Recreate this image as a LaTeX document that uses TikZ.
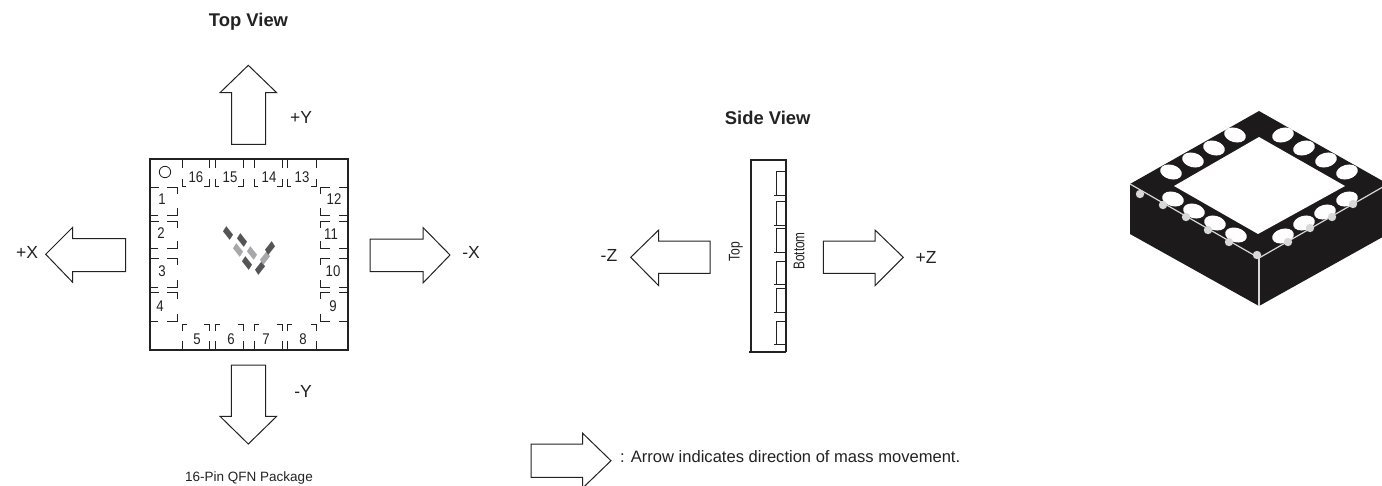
\documentclass[tikz,border=0pt]{standalone}
\usepackage{fontspec}
\usepackage{graphicx}
\setmainfont{Liberation Sans}
\definecolor{ink}{HTML}{222222}
\definecolor{chipblack}{HTML}{1C1A1A}
\definecolor{logodark}{HTML}{555558}
\definecolor{logolight}{HTML}{A8A8AA}
\definecolor{lump}{HTML}{D8D8D8}
\newcommand{\pintoppin}[2]{%
  \draw[pinline] (#1,159)--(#1,168) (#1,179)--(#1,186)--(#1+4,186) (#2-5,186)--(#2,186)--(#2,179) (#2,168)--(#2,159);}
\newcommand{\pinbotpin}[2]{%
  \draw[pinline] (#1,350)--(#1,341) (#1,331)--(#1,324)--(#1+5,324) (#2-5,324)--(#2,324)--(#2,331) (#2,341)--(#2,350);}
\newcommand{\pinleftpin}[2]{%
  \draw[pinline] (149,#1)--(159,#1) (167,#1)--(177,#1)--(177,#1+7) (177,#2-7)--(177,#2)--(167,#2) (158,#2)--(149,#2);}
\newcommand{\pinrightpin}[2]{%
  \draw[pinline] (349,#1)--(339,#1) (330,#1)--(320,#1)--(320,#1+7) (320,#2-7)--(320,#2)--(330,#2) (339,#2)--(349,#2);}
\newcommand{\sidepin}[2]{%
  \draw[pinline] (787,#1)--(776,#1)--(776,#2) (774,#2)--(787,#2);}
\newcommand{\logoL}[3]{\fill[#3] (#1-1.7,#2-6.8)--(#1+5,#2+1.7)--(#1+1.7,#2+6.8)--(#1-5,#2-1.7)--cycle;}
\newcommand{\logoR}[3]{\fill[#3] (#1+1.7,#2-6.8)--(#1-5,#2+1.7)--(#1-1.7,#2+6.8)--(#1+5,#2-1.7)--cycle;}
\newcommand{\padwhite}[3]{\fill[white,rotate around={#3:(#1,#2)}] (#1,#2) ellipse [x radius=11,y radius=7.2];}
\newcommand{\lumpdot}[2]{\fill[lump] (#1,#2) circle (4.2);}
\tikzset{
  x=1pt,y=-1pt,
  blockarrow/.style={draw=ink,line width=1pt,fill=white,line join=miter},
  pkgline/.style={draw=ink,line width=1.1pt},
  pinline/.style={draw=ink,line width=.9pt},
  axislabel/.style={inner sep=0pt,text=ink,font=\fontsize{17.5}{20}\selectfont},
  titlelabel/.style={inner sep=0pt,anchor=base,text=ink,font=\bfseries\fontsize{18.4}{20}\selectfont},
  pinlabel/.style={inner sep=0pt,text=ink,font=\fontsize{15.5}{18}\selectfont},
  notelabel/.style={inner sep=0pt,text=ink,font=\fontsize{16.55}{18}\selectfont},
}
\newcommand{\pinnum}[1]{\scalebox{.85}[1]{#1}}
\begin{document}
\begin{tikzpicture}
\useasboundingbox (0,0) rectangle (1382,485);
\begin{scope}
\clip (0,0) rectangle (1382,485);
% titles
\node[titlelabel] (topview) at (248.5,26) {Top View};
\node[titlelabel] (sideview) at (767.7,124) {Side View};
% block arrows
\draw[blockarrow] (248.3,65.3)--(276.7,92.7)--(265.7,92.7)--(265.7,144.3)--(231.7,144.3)--(231.7,92.7)--(220,92.7)--cycle;
\draw[blockarrow] (45.7,254.3)--(72.7,227.3)--(72.7,238.7)--(125.7,238.7)--(125.7,271.7)--(72.7,271.7)--(72.7,282.3)--cycle;
\draw[blockarrow] (450,255)--(423,227.5)--(423,239)--(370,239)--(370,271.5)--(423,271.5)--(423,283)--cycle;
\draw[blockarrow] (248.3,444)--(276.7,416.3)--(265.7,416.3)--(265.7,365)--(231.3,365)--(231.3,416.3)--(220,416.3)--cycle;
\draw[blockarrow] (630.7,257.3)--(658.7,230)--(658.7,241)--(710,241)--(710,273.3)--(658.7,273.3)--(658.7,285.7)--cycle;
\draw[blockarrow] (903.3,257.3)--(875,230)--(875,241)--(823.3,241)--(823.3,273.3)--(875,273.3)--(875,285.7)--cycle;
\draw[blockarrow] (611,460.7)--(582.7,433.3)--(582.7,444)--(531,444)--(531,477.3)--(582.7,477.3)--(582.7,488)--cycle;
% axis labels
\node[axislabel] (py) at (301,117) {+Y};
\node[axislabel] (my) at (303,391) {-Y};
\node[axislabel] (px) at (27,252) {+X};
\node[axislabel] (mx) at (471,252) {-X};
\node[axislabel] (mz) at (609,255) {-Z};
\node[axislabel] (pz) at (926,257) {+Z};
% QFN package outline
\draw[pkgline] (150,159) rectangle (348,350);
\draw[ink,line width=.8pt] (165,172) circle (5.7);
\pintoppin{182}{209}\pintoppin{215}{243}\pintoppin{254}{282}\pintoppin{287}{316}
\pinbotpin{182}{209}\pinbotpin{215}{243}\pinbotpin{254}{282}\pinbotpin{287}{316}
\pinleftpin{187}{215}\pinleftpin{221}{248}\pinleftpin{258}{287}\pinleftpin{292}{321}
\pinrightpin{187}{215}\pinrightpin{221}{248}\pinrightpin{258}{287}\pinrightpin{292}{321}
% pin numbers
\node[pinlabel] (p16) at (196,177) {\pinnum{16}};
\node[pinlabel] (p15) at (230,177) {\pinnum{15}};
\node[pinlabel] (p14) at (269,177) {\pinnum{14}};
\node[pinlabel] (p13) at (302,177) {\pinnum{13}};
\node[pinlabel] (p1) at (162,199) {\pinnum{1}};
\node[pinlabel] (p2) at (161,233) {\pinnum{2}};
\node[pinlabel] (p3) at (162,271) {\pinnum{3}};
\node[pinlabel] (p4) at (160,306) {\pinnum{4}};
\node[pinlabel] (p5) at (197,339) {\pinnum{5}};
\node[pinlabel] (p6) at (231,339) {\pinnum{6}};
\node[pinlabel] (p7) at (266,339) {\pinnum{7}};
\node[pinlabel] (p8) at (303,339) {\pinnum{8}};
\node[pinlabel] (p12) at (334,199) {\pinnum{12}};
\node[pinlabel] (p11) at (331,234) {\pinnum{11}};
\node[pinlabel] (p10) at (333,271) {\pinnum{10}};
\node[pinlabel] (p9) at (333,306) {\pinnum{9}};
% logo
\logoL{228}{233}{logodark}\logoL{242}{240}{logodark}
\logoL{238}{250}{logolight}\logoL{252}{253}{logolight}
\logoL{247}{263}{logodark}
\logoR{260}{268}{logodark}\logoR{265}{258}{logolight}\logoR{270}{248}{logodark}
% side view
\draw[pkgline] (749,352)--(786,352) (751,352)--(751,160)--(786,160)--(786,352);
\sidepin{171}{195}\sidepin{201}{225}\sidepin{228}{252}\sidepin{261}{284}\sidepin{288}{312}\sidepin{321}{344}
\node[pinlabel,rotate=90] (toplabel) at (736,252) {\scalebox{.78}[1]{Top}};
\node[pinlabel,rotate=90] (bottomlabel) at (799,251) {\scalebox{.76}[1]{Bottom}};
% legend and caption
\node[notelabel,anchor=west] (note) at (620,457) {: Arrow indicates direction of mass movement.};
\node[notelabel,font=\fontsize{13.5}{16}\selectfont] (caption) at (249,478) {16-Pin QFN Package};
% 3D chip
\fill[chipblack] (1259,111)--(1388,184)--(1388,234)--(1259,306)--(1130,234)--(1130,184)--cycle;
\fill[white] (1259,137)--(1345,186)--(1258,234)--(1174,186)--cycle;
\padwhite{1235}{135}{-15}\padwhite{1214}{148}{-15}\padwhite{1193}{160}{-15}\padwhite{1171}{172}{-15}
\padwhite{1283}{135}{15}\padwhite{1304}{148}{15}\padwhite{1326}{160}{15}\padwhite{1347}{172}{15}
\padwhite{1173}{199}{-15}\padwhite{1194}{211}{-15}\padwhite{1215}{223}{-15}\padwhite{1236}{235}{-15}
\padwhite{1283}{236}{15}\padwhite{1304}{223}{15}\padwhite{1325}{212}{15}\padwhite{1347}{199}{15}
\draw[lump,line width=1.2pt] (1130,184)--(1259,258)--(1388,184);
\draw[lump,line width=1.6pt] (1259,258)--(1259,306);
\lumpdot{1140}{194}\lumpdot{1163}{205}\lumpdot{1186}{217}\lumpdot{1208}{230}\lumpdot{1229}{242}
\lumpdot{1257}{255}\lumpdot{1288}{242}\lumpdot{1310}{228}\lumpdot{1332}{217}\lumpdot{1353}{204}
\end{scope}
\end{tikzpicture}
\end{document}
